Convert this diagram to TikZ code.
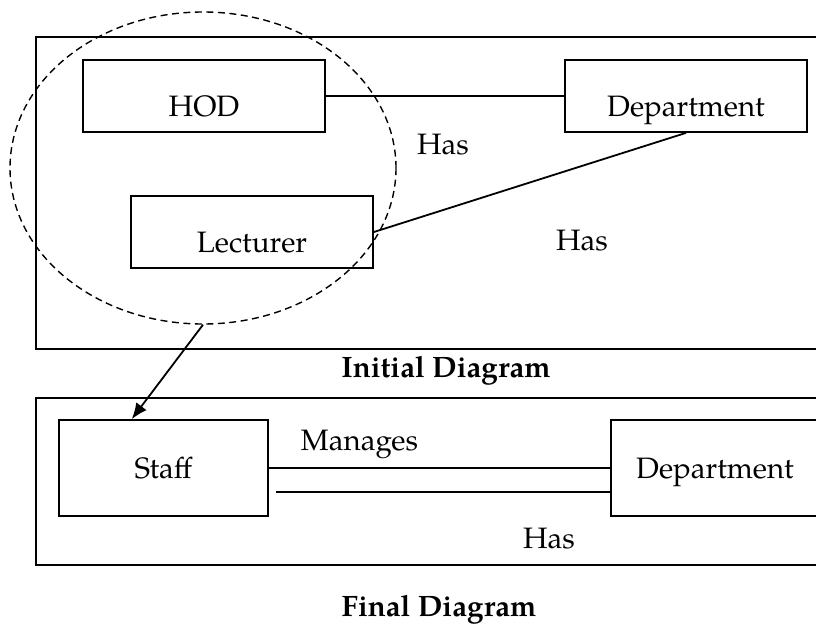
\documentclass[tikz,border=0pt]{standalone}
\usepackage{fontspec}
\setmainfont{texgyrepagella}[Extension=.otf, UprightFont=*-regular, BoldFont=*-bold]
\usetikzlibrary{shapes.geometric,arrows.meta,calc}

\begin{document}
\begin{tikzpicture}[x=1pt,y=-1pt,
  every node/.style={font=\fontsize{29.5}{33}\selectfont, inner sep=0pt},
  ln/.style={line width=1.8pt},
  frame/.style={draw, ln, anchor=north west},
  entitytop/.style={draw, ln, minimum width=242pt, minimum height=72pt,
    text height=40pt, text depth=0pt},
  entitybot/.style={draw, ln, minimum height=96pt,
    text height=20.5pt, text depth=0pt},
  rel/.style={text height=20.5pt, text depth=0pt},
  caption/.style={rel, font=\fontsize{29.5}{33}\selectfont\bfseries}]

\useasboundingbox (0,0) rectangle (816,626);
\clip (0,0) rectangle (816,626);

% outer frames of the two diagrams
\node[frame, minimum width=795pt, minimum height=312pt] (frameA) at (35,36) {};
\node[frame, minimum width=795pt, minimum height=167pt] (frameB) at (35,397) {};

% initial diagram
\node[entitytop] (hod)  at (204,96)  {HOD};
\node[entitytop] (dept) at (686,96)  {Department};
\node[entitytop] (lect) at (252,232) {Lecturer};

\draw[ln] (hod.east) -- (dept.west);
\draw[ln] (lect.east) -- (dept.south);

\node[rel] (has1) at (443,144) {Has};
\node[rel] (has2) at (582,240) {Has};

% grouping of HOD and Lecturer
\node[ellipse, draw, line width=1.4pt, dash pattern=on 7pt off 4.5pt,
  minimum width=386pt, minimum height=312pt] (grp) at (203,168) {};

\node[caption] (capA) at (446,367) {Initial Diagram};

% final diagram
\node[entitybot, minimum width=209pt] (staff) at (163.5,468) {Staff};
\node[entitybot, minimum width=208pt] (dept2) at (715,468) {Department};

\draw[ln] (staff.east) -- (dept2.west);
\draw[ln] ($(staff.east)+(7,24)$) -- ($(dept2.west)+(2,24)$);

\node[rel] (manages) at (359.5,440) {Manages};
\node[rel] (has3) at (549,538) {Has};

\draw[ln, -{Latex[length=16pt,width=13pt]}] (grp.south) -- (staff.123);

\node[caption] (capB) at (439,606) {Final Diagram};
\end{tikzpicture}
\end{document}
